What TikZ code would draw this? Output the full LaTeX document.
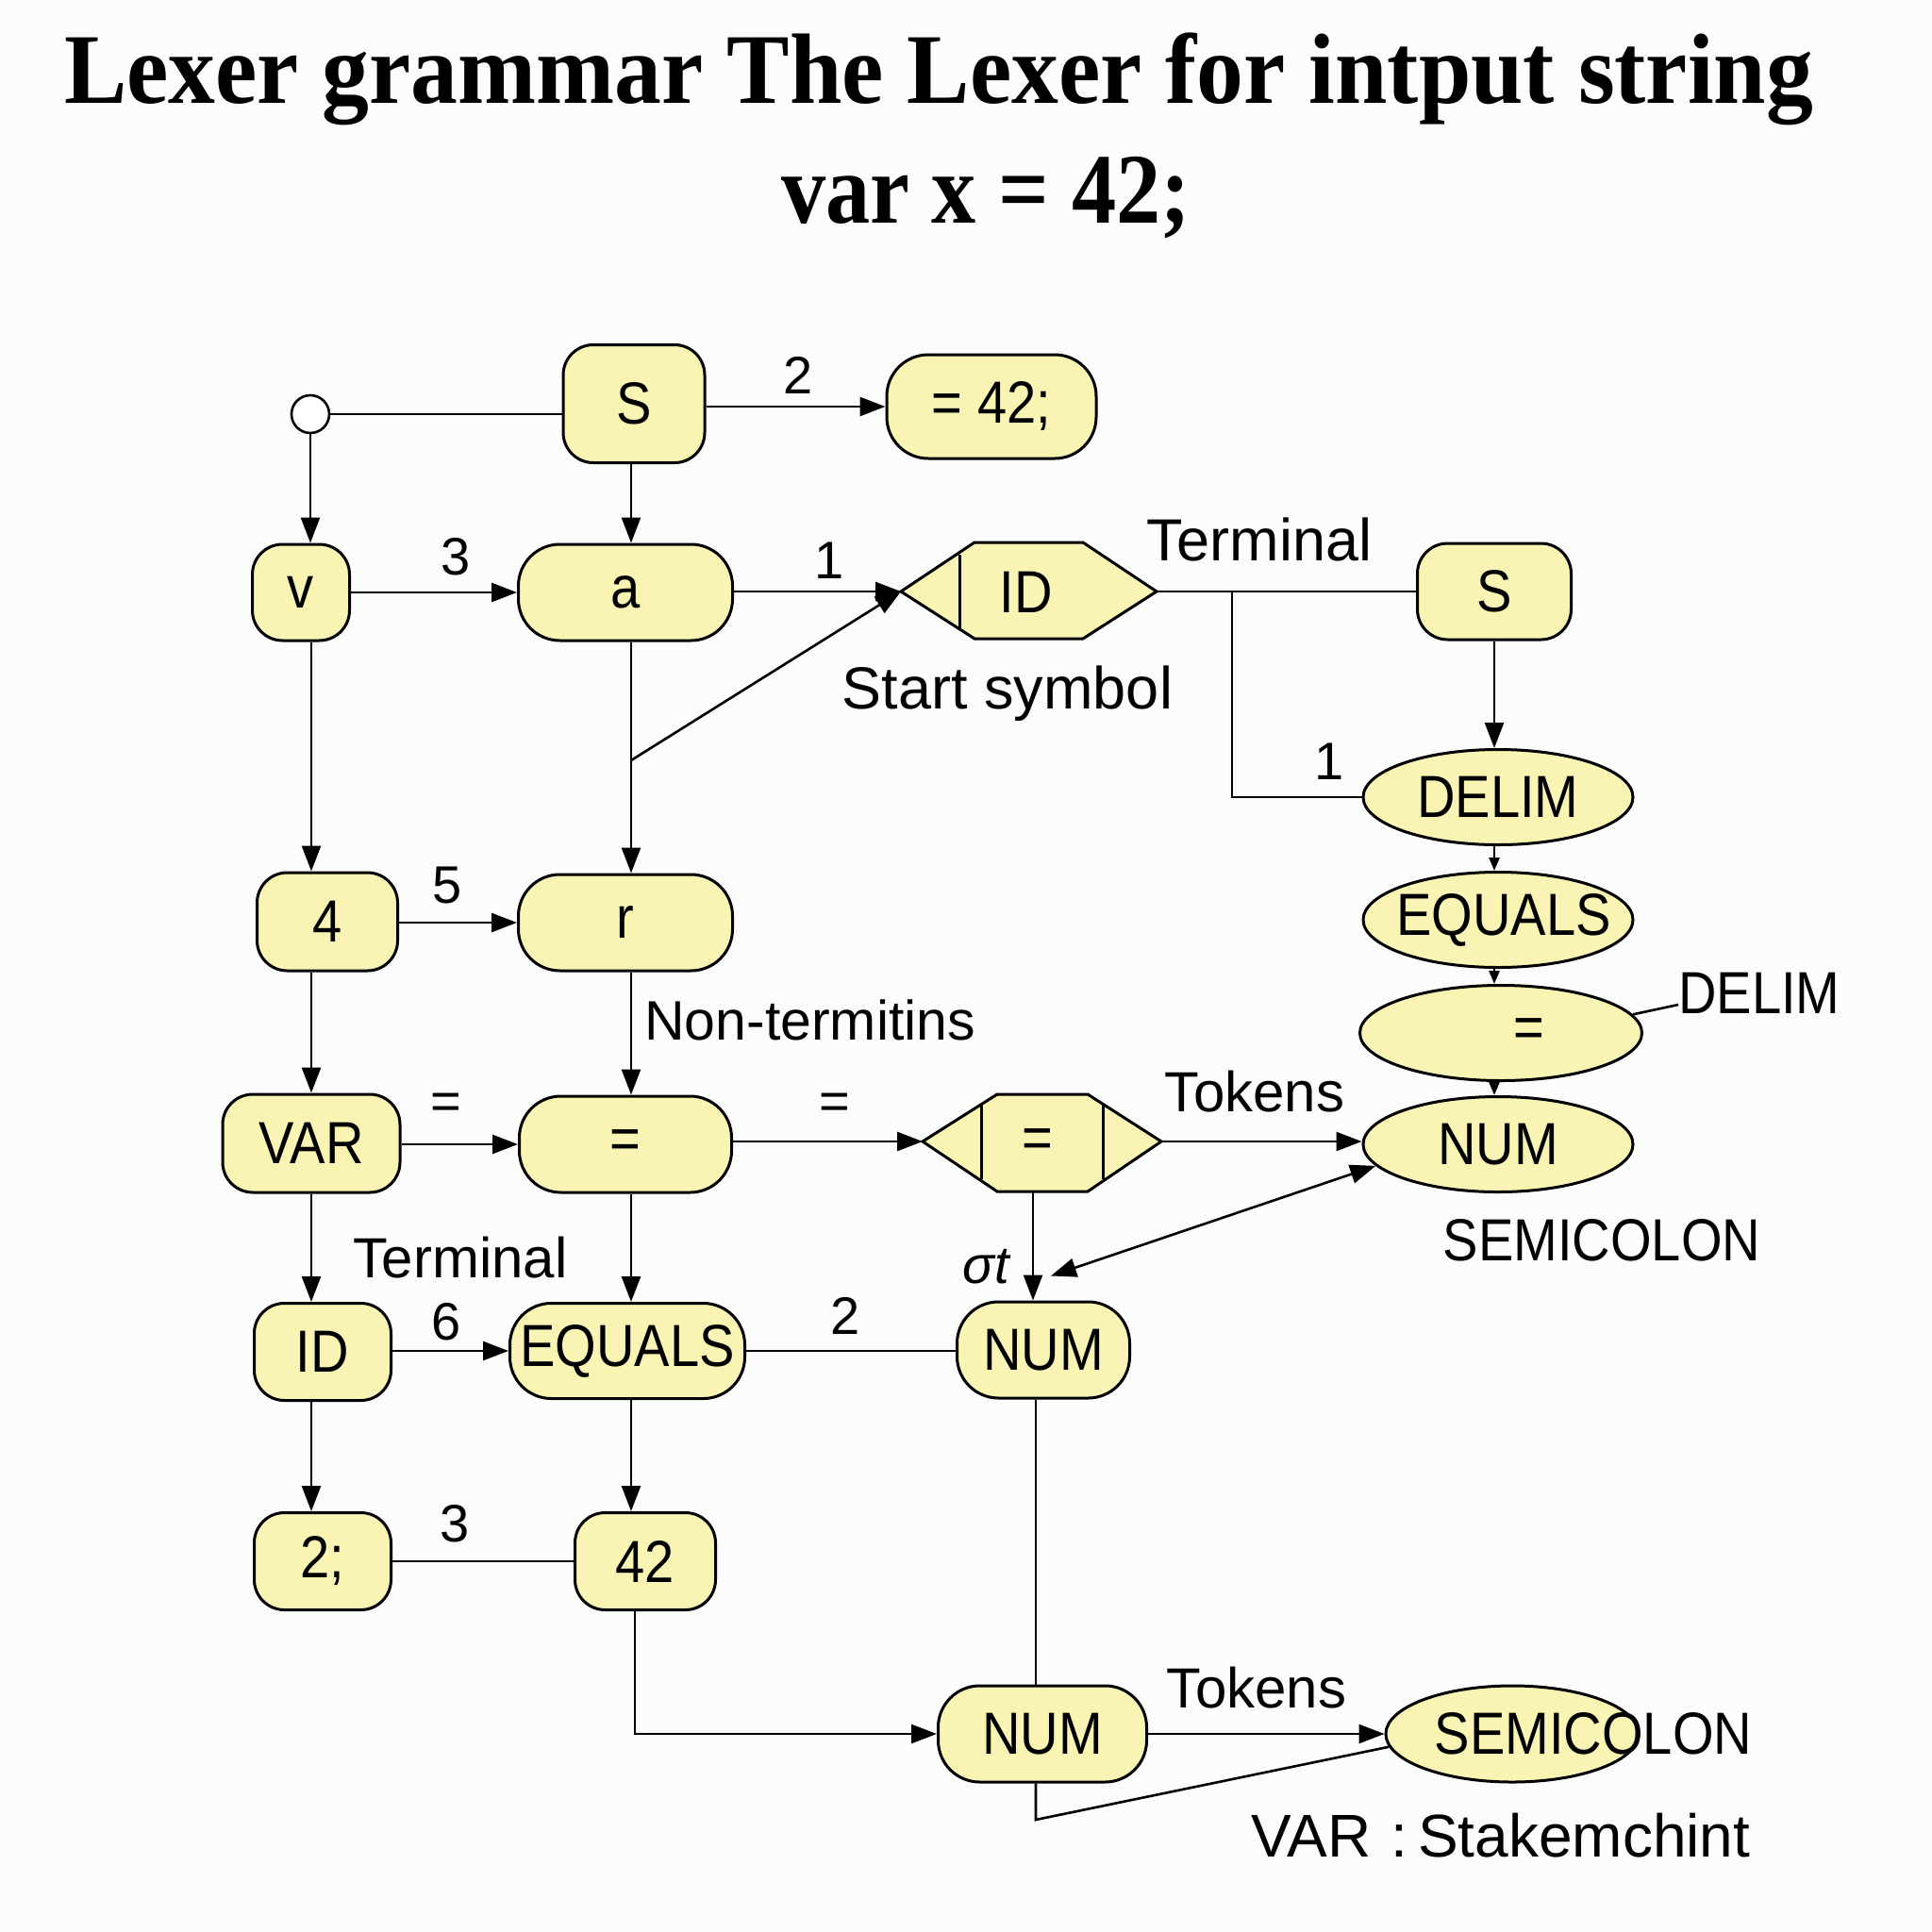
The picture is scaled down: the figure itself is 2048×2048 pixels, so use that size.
\documentclass[tikz,border=0pt]{standalone}
\usepackage{fontspec}
\setmainfont{Liberation Sans}
\newfontfamily\titlefont{Liberation Serif}
\newfontfamily\nodefont[FakeStretch=0.89]{Liberation Sans}
\usetikzlibrary{shapes.geometric,arrows.meta}
\definecolor{nodefill}{HTML}{FAF4B4}
\definecolor{bgc}{HTML}{FCFCFC}
\begin{document}
\begin{tikzpicture}[x=1pt,y=-1pt,
  txt/.style={font=\nodefont\fontsize{63}{66}\selectfont, inner sep=0pt},
  base/.style={txt, draw=black, line width=3pt, fill=nodefill},
  rbox/.style={base, rectangle, rounded corners=32pt},
  pill/.style={base, rectangle, rounded corners=44pt},
  ell/.style={base, ellipse},
  conn/.style={line width=2.6pt},
  arr/.style={conn, -{Triangle[length=27pt,width=20pt]}},
  sarr/.style={conn, -{Triangle[length=14pt,width=11pt]}},
  darr/.style={conn, {Triangle[length=27pt,width=20pt]}-{Triangle[length=27pt,width=20pt]}},
  lbl/.style={font=\fontsize{56}{60}\selectfont, inner sep=0pt},
  hexs/.style={draw=black, line width=3pt, fill=nodefill, line join=miter},
  ttl/.style={font=\titlefont\bfseries\fontsize{106}{110}\selectfont, inner sep=0pt}
]
\fill[bgc] (0,0) rectangle (2048,2048);
\useasboundingbox (0,0) rectangle (2048,2048);

% title
\node[ttl] (title1) at (995,84) {\scalebox{0.94}[1]{Lexer grammar The Lexer for intput string}};
\node[ttl] (title2) at (1045,210) {\scalebox{0.89}[1]{var x = 42;}};

% column coordinates
\coordinate (colA) at (330,0);
\coordinate (colB) at (669,0);
\coordinate (colB2) at (673,0);
\coordinate (colC) at (1095,0);
\coordinate (colC2) at (1098,0);
\coordinate (colD) at (1584,0);
\coordinate (colJ) at (1306,0);

% nodes
\node[draw=black, line width=2.6pt, fill=white, circle, minimum size=40pt, inner sep=0pt] (circ) at (329,439) {};
\node[rbox, minimum width=150pt, minimum height=125pt] (S1) at (672,428) {S};
\node[pill, minimum width=222pt, minimum height=110pt] (eq42) at (1051,431) {= 42;};
\node[rbox, minimum width=103pt, minimum height=102pt] (v) at (319,628) {v};
\node[pill, minimum width=227pt, minimum height=102pt] (a) at (663,628) {a};

% ID hexagon
\coordinate (idL) at (955,627);
\coordinate (idR) at (1226,627);
\draw[hexs] (idL) -- (1033,575) -- (1148,575) -- (idR) -- (1148,677) -- (1033,677) -- cycle;
\draw[line width=3pt] (1017,588) -- (1017,666);
\node[txt] (ID1) at (1088,628) {ID};

\node[rbox, minimum width=163pt, minimum height=102pt] (S2) at (1584,627) {S};
\node[ell, minimum width=286pt, minimum height=101pt] (DELIM) at (1588,845) {};
\node[txt] (DELIMt) at (1588,845) {DELIM};
\node[ell, minimum width=286pt, minimum height=101pt] (EQe) at (1588,975) {};
\node[txt] (EQet) at (1594,975) {EQUALS};
\node[ell, minimum width=299pt, minimum height=101pt] (eqE) at (1591,1095) {};
\node[txt] (eqEt) at (1621,1095) {=};
\node[ell, minimum width=286pt, minimum height=101pt] (NUMe) at (1588,1213) {};
\node[txt] (NUMet) at (1588,1213) {NUM};

\node[rbox, minimum width=149pt, minimum height=104pt] (n4) at (347,977) {4};
\node[pill, minimum width=227pt, minimum height=102pt] (r) at (663,978) {r};
\node[rbox, minimum width=188pt, minimum height=104pt] (VAR) at (330,1212) {VAR};
\node[pill, minimum width=225pt, minimum height=102pt] (eqB) at (663,1213) {=};

% second hexagon
\coordinate (hxL) at (978,1210);
\coordinate (hxR) at (1231,1210);
\draw[hexs] (hxL) -- (1057,1160) -- (1153,1160) -- (hxR) -- (1153,1263) -- (1057,1263) -- cycle;
\draw[line width=3pt] (1040,1171) -- (1040,1250);
\draw[line width=3pt] (1169,1171) -- (1169,1250);
\node[txt] (hx) at (1100,1212) {=};
\coordinate (hxB) at (1095,1263);

\node[rbox, minimum width=145pt, minimum height=103pt] (ID5) at (342,1433) {ID};
\node[pill, minimum width=249pt, minimum height=101pt] (EQ5) at (665,1432) {EQUALS};
\node[pill, minimum width=183pt, minimum height=102pt] (NUM2) at (1106,1431) {NUM};
\node[rbox, minimum width=145pt, minimum height=103pt] (s2) at (342,1655) {2;};
\node[rbox, minimum width=149pt, minimum height=103pt] (n42) at (684,1655) {42};
\node[pill, minimum width=221pt, minimum height=102pt] (NUM3) at (1105,1838) {NUM};
\node[ell, minimum width=268pt, minimum height=102pt] (SEMI) at (1603,1838) {};
\node[txt] (SEMIt) at (1689,1838) {SEMICOLON};

% labels
\node[lbl] (l2a) at (846,398) {2};
\node[lbl] (l3a) at (483,590) {3};
\node[lbl] (l1a) at (879,594) {1};
\node[lbl, font=\fontsize{63}{66}\selectfont] (lstart) at (1068,735) {Start symbol};
\node[lbl, font=\fontsize{63}{66}\selectfont] (lterm1) at (1335,572) {Terminal};
\node[lbl] (l1b) at (1409,807) {1};
\node[txt] (ldelim) at (1865,1053) {DELIM};
\node[txt] (lsemi) at (1698,1315) {SEMICOLON};
\node[lbl] (l5) at (474,938) {5};
\node[lbl, anchor=west, font=\fontsize{59}{62}\selectfont] (lnon) at (683,1081) {Non-termitins};
\node[lbl] (leq1) at (473,1173) {=};
\node[lbl] (leq2) at (885,1173) {=};
\node[lbl, font=\fontsize{60}{62}\selectfont] (ltok1) at (1330,1157) {Tokens};
\node[lbl, font=\fontsize{56}{60}\selectfont\itshape] (lsig) at (1045,1343) {σt};
\node[lbl, font=\fontsize{60}{62}\selectfont] (lterm2) at (488,1333) {Terminal};
\node[lbl] (l6) at (473,1401) {6};
\node[lbl] (l2b) at (896,1395) {2};
\node[lbl] (l3b) at (482,1615) {3};
\node[lbl, font=\fontsize{60}{62}\selectfont] (ltok2) at (1332,1789) {Tokens};
\node[lbl, font=\fontsize{64}{66}\selectfont] (lvar) at (1591,1946) {VAR\,\,:\,Stakemchint};

% connectors
\draw[conn] (circ.east) -- (S1.west |- circ);
\draw[arr] (S1.east |- eq42) -- (eq42.west);
\draw[arr] (circ.south) -- (circ |- v.north);
\draw[arr] (S1.south -| colB) -- (a.north -| colB);
\draw[arr] (v.east |- a) -- (a.west);
\draw[arr] (a.east |- idL) -- (idL);
\draw[arr] (a.south -| colB) -- (r.north -| colB);
\coordinate (j1) at (669,806);
\draw[arr] (j1) -- (idL);
\draw[conn] (idR) -- (S2.west |- idR);
\draw[conn] (idR -| colJ) |- (DELIM.west);
\draw[arr] (S2.south -| colD) -- (DELIM.north -| colD);
\draw[sarr] (DELIM.south -| colD) -- (EQe.north -| colD);
\draw[sarr] (EQe.south -| colD) -- (eqE.north -| colD);
\draw[sarr] (eqE.south -| colD) -- (NUMe.north -| colD);
\draw[conn] (eqE.8) -- ([yshift=-12pt]ldelim.west);
\draw[arr] (v.south -| colA) -- (n4.north -| colA);
\draw[arr] (n4.east |- r) -- (r.west);
\draw[arr] (n4.south -| colA) -- (VAR.north -| colA);
\draw[arr] (r.south -| colB) -- (eqB.north -| colB);
\draw[arr] (VAR.east |- eqB) -- (eqB.west);
\draw[arr] (eqB.east |- hxL) -- (hxL);
\draw[arr] (hxR) -- (NUMe.west |- hxR);
\draw[arr] (hxB) -- (NUM2.north -| colC);
\draw[darr] (NUMe.190) -- ([xshift=8pt,yshift=26pt]NUM2.north);
\draw[arr] (VAR.south -| colA) -- (ID5.north -| colA);
\draw[arr] (ID5.east |- EQ5) -- (EQ5.west);
\draw[arr] (eqB.south -| colB) -- (EQ5.north -| colB);
\draw[conn] (EQ5.east) -- (NUM2.west |- EQ5);
\draw[arr] (ID5.south -| colA) -- (s2.north -| colA);
\draw[arr] (EQ5.south -| colB) -- (n42.north -| colB);
\draw[conn] (s2.east) -- (n42.west);
\draw[arr] (n42.south -| colB2) |- (NUM3.west);
\draw[conn] (NUM2.south -| colC2) -- (NUM3.north -| colC2);
\draw[arr] (NUM3.east) -- (SEMI.west);
\coordinate (j2) at (1098,1929);
\draw[conn] (NUM3.south -| colC2) -- (j2) -- (SEMI.186);
\end{tikzpicture}
\end{document}
